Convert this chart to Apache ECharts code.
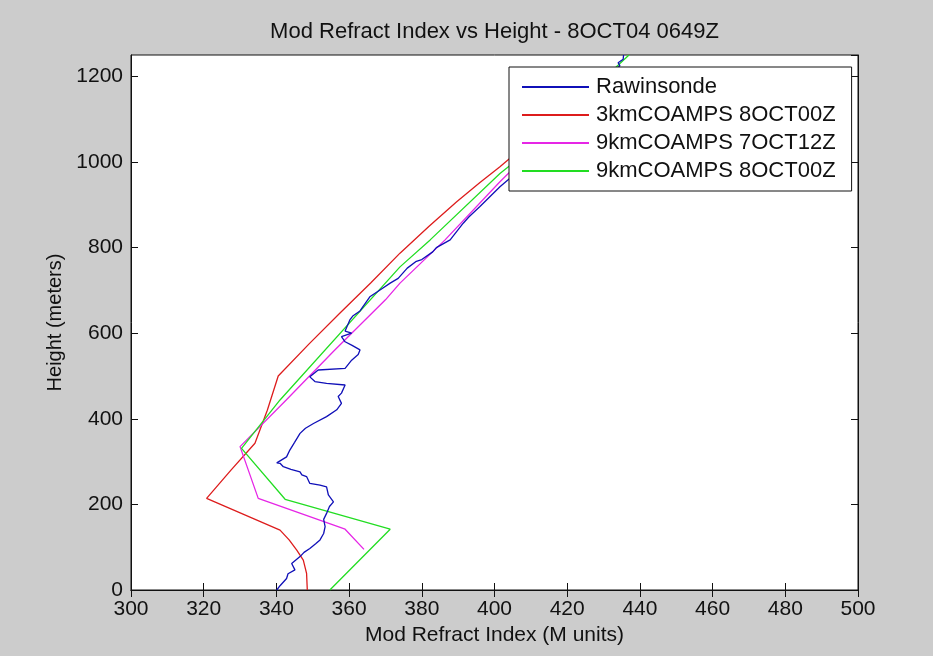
<!DOCTYPE html>
<html>
<head>
<meta charset="utf-8">
<script src="https://cdn.jsdelivr.net/npm/echarts@6/dist/echarts.min.js"></script>
<style>
html,body{margin:0;padding:0;background:#cccccc;}
#chart{width:933px;height:656px;}
</style>
</head>
<body>
<div id="chart"></div>
<script>
// ---- Data ----
const titleText = 'Mod Refract Index vs Height - 8OCT04 0649Z';
const xName = 'Mod Refract Index (M units)';
const yName = 'Height (meters)';
const seriesNames = ['Rawinsonde', '3kmCOAMPS 8OCT00Z', '9kmCOAMPS 7OCT12Z', '9kmCOAMPS 8OCT00Z'];

// Rawinsonde
const rawM = [340.1,341.0,342.8,343.2,345.1,344.2,346.5,347.6,349.2,350.8,352.0,353.0,353.4,353.0,353.8,354.6,355.7,354.3,353.8,352.0,349.2,348.3,347.0,346.5,344.0,341.9,341.0,340.1,342.8,343.7,345.0,346.5,348.0,350.2,353.8,356.6,357.9,357.0,357.9,358.9,353.8,350.6,349.2,351.5,358.9,360.7,362.5,363.0,360.7,358.9,357.9,360.7,358.9,360.2,361.0,363.0,365.7,368.5,371.3,373.5,376.0,378.5,380.0,383.0,384.0,387.8,391.4,393.0,396.0,401.5,404.0,412.0,420.0,428.0,434.5,434.0,435.4,435.5];
const rawH = [0,10,27,38,47,62,78,88,97,108,117,132,148,165,179,195,206,222,241,245,249,265,269,276,282,288,296,297,311,327,345,366,378,389,405,421,436,452,460,479,483,487,498,514,518,537,550,561,572,580,592,600,605,631,640,652,685,701,717,728,752,768,772,790,800,818,857,872,896,942,960,1040,1110,1180,1225,1232,1240,1250];

// 3km COAMPS 8OCT00Z
const r3M = [348.5,348.3,347.4,345.6,343.5,341.0,320.8,327.5,334.1,337.5,340.5,349.0,357.5,366.0,374.0,382.0,389.6,396.0,401.5,410.0,419.0];
const r3H = [0,39,70,93,117,140,214,280,343,420,500,575,647,718,787,850,907,952,989,1050,1110];

// 9km COAMPS 7OCT12Z
const m9M = [364.1,358.9,335.0,330.0,342.7,356.0,370.0,374.0,386.4,401.5,404.0,415.0];
const m9H = [95,142,214,335,444,560,678,717,818,954,975,1080];

// 9km COAMPS 8OCT00Z
const g9M = [354.7,371.3,342.4,330.4,341.0,374.0,382.3,401.5,404.0,420.0,437.0];
const g9H = [0,142,212,331,444,755,818,973,990,1115,1250];

const xTicks = {min:300, max:500, interval:20};
const yTicks = {min:0, max:1250, interval:200};

const colors = ['#1010b8', '#dd1c1c', '#e626e6', '#22dd22'];

function pairs(xs, ys){ return xs.map((v,i)=>[v, ys[i]]); }

const FONT = 'Liberation Sans, Arial, sans-serif';
const chart = echarts.init(document.getElementById('chart'), null, {renderer:'canvas'});

const axisLine = {show:true, lineStyle:{color:'#111', width:1}};
const tickInside = {show:true, inside:true, length:7, lineStyle:{color:'#111', width:1}};
const plain = v => String(v);

const option = {
  animation:false,
  backgroundColor:'#cccccc',
  grid:{left:131, right:75, top:55, bottom:66, show:true, backgroundColor:'#ffffff', borderColor:'#111', borderWidth:1},
  graphic:[{
    type:'text', x:494.5, y:32,
    style:{text:titleText, fill:'#111', font:'22px '+FONT, textAlign:'center', textVerticalAlign:'middle'}
  }],
  legend:{
    data:seriesNames, orient:'vertical', left:509, top:67,
    backgroundColor:'#ffffff', borderColor:'#111', borderWidth:1, borderRadius:0,
    padding:[9,16,9,13], itemGap:6, itemWidth:67, itemHeight:2, icon:'rect',
    textStyle:{fontFamily:FONT, fontSize:22, color:'#111', lineHeight:21, padding:[0,0,0,2]},
    z:10
  },
  xAxis:[{
    type:'value', min:xTicks.min, max:xTicks.max, interval:xTicks.interval, position:'bottom',
    name:xName, nameLocation:'middle', nameGap:29,
    nameTextStyle:{fontFamily:FONT, fontSize:21, color:'#111'},
    axisLine:axisLine, axisTick:tickInside, splitLine:{show:false},
    axisLabel:{fontFamily:FONT, fontSize:21, color:'#111', margin:9, formatter:plain}
  },{
    type:'value', min:xTicks.min, max:xTicks.max, interval:xTicks.interval, position:'top',
    axisLine:axisLine, axisTick:tickInside, splitLine:{show:false}, axisLabel:{show:false}
  }],
  yAxis:[{
    type:'value', min:yTicks.min, max:yTicks.max, interval:yTicks.interval, position:'left',
    name:yName, nameLocation:'middle', nameGap:62,
    nameTextStyle:{fontFamily:FONT, fontSize:20, color:'#111'},
    axisLine:axisLine, axisTick:tickInside, splitLine:{show:false},
    axisLabel:{fontFamily:FONT, fontSize:21, color:'#111', margin:8, showMaxLabel:false, formatter:plain}
  },{
    type:'value', min:yTicks.min, max:yTicks.max, interval:yTicks.interval, position:'right',
    axisLine:axisLine, axisTick:tickInside, splitLine:{show:false}, axisLabel:{show:false}
  }],
  series:[
    {name:seriesNames[0], type:'line', data:pairs(rawM, rawH), symbol:'none', color:colors[0], lineStyle:{width:1.3, color:colors[0]}, z:5},
    {name:seriesNames[1], type:'line', data:pairs(r3M, r3H), symbol:'none', color:colors[1], lineStyle:{width:1.3, color:colors[1]}, z:4},
    {name:seriesNames[2], type:'line', data:pairs(m9M, m9H), symbol:'none', color:colors[2], lineStyle:{width:1.3, color:colors[2]}, z:4},
    {name:seriesNames[3], type:'line', data:pairs(g9M, g9H), symbol:'none', color:colors[3], lineStyle:{width:1.3, color:colors[3]}, z:4}
  ]
};
chart.setOption(option);
</script>
</body>
</html>
